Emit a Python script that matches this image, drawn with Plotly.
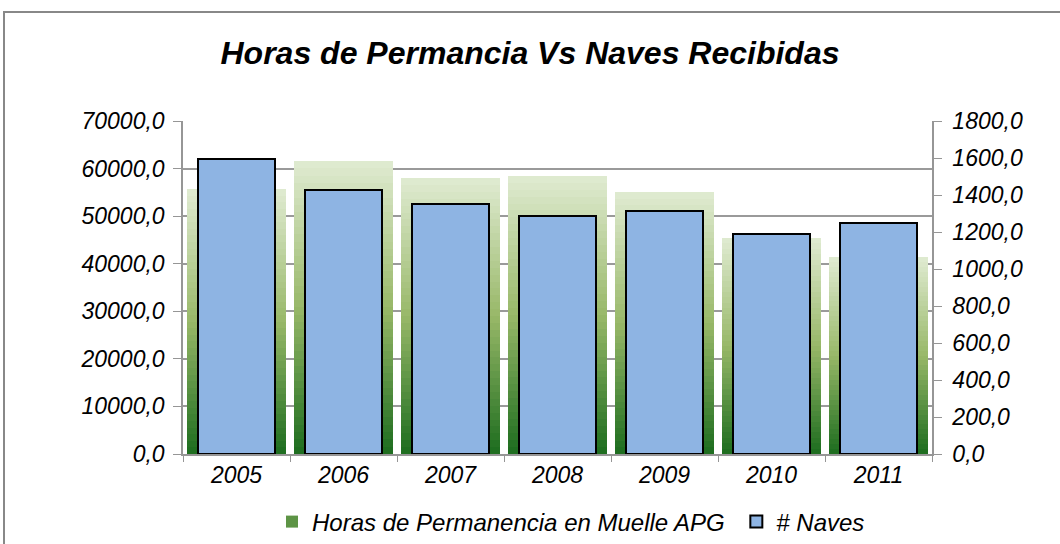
import plotly.graph_objects as go

years = ["2005", "2006", "2007", "2008", "2009", "2010", "2011"]
horas = [55700, 61600, 58000, 58500, 55000, 45400, 41400]
naves = [1595, 1427, 1351, 1286, 1313, 1187, 1247]
left_ticks = list(range(0, 70001, 10000))
right_ticks = list(range(0, 1801, 200))

title_text = "Horas de Permancia Vs Naves Recibidas"
name_horas = "Horas de Permanencia en Muelle APG"
name_naves = "# Naves"

FONT = "Liberation Sans, Arial, sans-serif"
N = 40
stops = [(0.0, (28, 108, 30)), (0.5, (152, 184, 104)), (1.0, (224, 235, 210))]

def mix(t):
    for (t0, c0), (t1, c1) in zip(stops[:-1], stops[1:]):
        if t <= t1:
            f = (t - t0) / (t1 - t0)
            r, g, b = (round(c0[k] + (c1[k] - c0[k]) * f) for k in range(3))
            return f"rgb({r},{g},{b})"
    return "rgb(%d,%d,%d)" % stops[-1][1]

fig = go.Figure()
for i in range(N):
    t = (i + 0.5) / N
    fig.add_trace(go.Bar(
        x=years,
        y=[v / N for v in horas],
        base=[v * i / N for v in horas],
        width=0.92,
        marker=dict(color=mix(t), line=dict(width=0)),
        name="<i>" + name_horas + "</i>&nbsp;",
        legendgroup="horas",
        showlegend=(i == N // 4),
        yaxis="y",
        hoverinfo="skip",
    ))

fig.add_trace(go.Bar(
    x=years, y=naves, width=0.72,
    marker=dict(color="#8eb4e3", line=dict(color="black", width=2)),
    name="<i>" + name_naves + "</i>", yaxis="y2",
))

TICKF = dict(size=23, family=FONT, color="black")
fig.update_layout(
    width=1060, height=544,
    barmode="overlay",
    bargap=0,
    paper_bgcolor="white", plot_bgcolor="white",
    margin=dict(l=183, r=128, t=121, b=90, autoexpand=False),
    font=dict(family=FONT, color="black"),
    title=dict(text="<b><i>" + title_text + "</i></b>", x=0.5, xanchor="center",
               y=1 - 53 / 544, yref="container", yanchor="middle",
               font=dict(size=32, family=FONT)),
    xaxis=dict(type="category", showgrid=False, showline=True, linecolor="#969696",
               linewidth=1.5, ticks="outside", tickson="boundaries", ticklen=6,
               tickcolor="#969696", tickfont=TICKF,
               tickvals=years, ticktext=[f"<i>{y}</i>" for y in years]),
    yaxis=dict(range=[0, 70000], showgrid=True,
               gridcolor="#9a9a9a", gridwidth=2, showline=True, linecolor="#969696",
               linewidth=1.5, ticks="outside", ticklen=8, tickcolor="#969696",
               tickfont=TICKF, zeroline=False, ticklabelstandoff=4,
               tickvals=left_ticks, ticktext=[f"<i>{v},0</i>" for v in left_ticks]),
    yaxis2=dict(range=[0, 1800], overlaying="y", side="right",
                showgrid=False, showline=True, linecolor="#969696", linewidth=1.5,
                ticks="outside", ticklen=8, tickcolor="#969696",
                tickfont=TICKF, zeroline=False, ticklabelstandoff=6,
                tickvals=right_ticks, ticktext=[f"<i>{v},0</i>" for v in right_ticks]),
    legend=dict(orientation="h", x=(272 - 183) / 749, xanchor="left",
                y=-(522 - 454) / 333, yanchor="middle",
                font=dict(size=24, family=FONT), traceorder="normal",
                itemwidth=30, tracegroupgap=0),
)

fig.add_shape(type="rect", xref="paper", yref="paper",
              x0=(4 - 183) / 749, x1=1.3, y0=-0.5, y1=1 + (121 - 12) / 333,
              line=dict(color="#888888", width=2), fillcolor="rgba(0,0,0,0)", layer="below")

fig.write_html("out.html", config={"displayModeBar": False},
               post_script="document.body.style.margin='0';")
